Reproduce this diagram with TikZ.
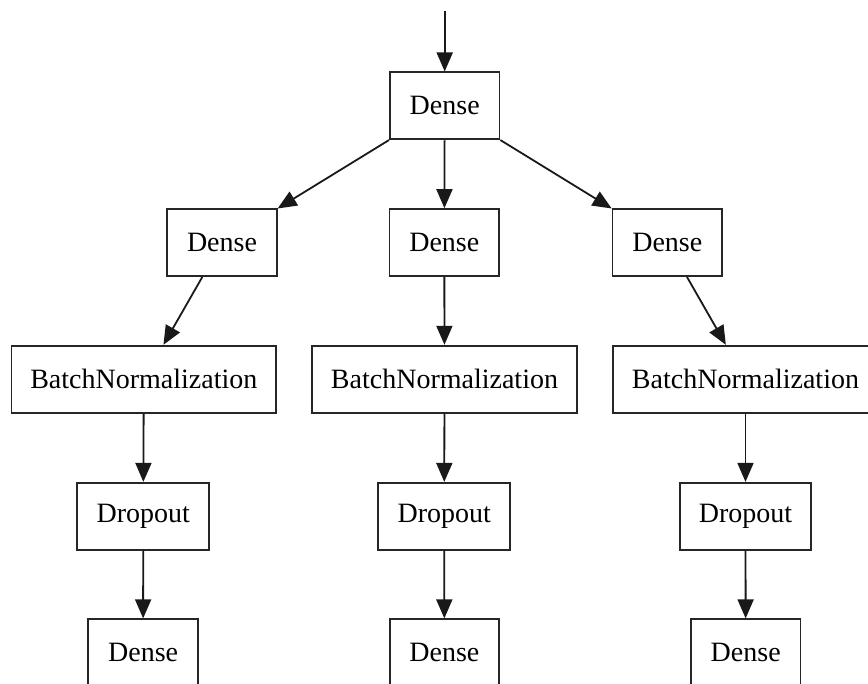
\documentclass[tikz,border=0pt]{standalone}
\usepackage{fontspec}
\setmainfont{Liberation Serif}
\usetikzlibrary{arrows.meta}
\begin{document}
\begin{tikzpicture}[x=1pt,y=-1pt,
  layer/.style={draw=black!85, line width=1.8pt, fill=white, inner sep=0pt,
    minimum height=67pt, font=\fontsize{28}{32}\selectfont},
  densebox/.style={layer, minimum width=109.5pt},
  bnbox/.style={layer, minimum width=264.5pt},
  dropbox/.style={layer, minimum width=131.7pt},
  edge/.style={draw=black!90, line width=1.8pt, -{Triangle[length=19pt,width=16pt]}}]
\useasboundingbox (0,0) rectangle (868,684);
\clip (0,0) rectangle (868,684);
\coordinate (in) at (444.7,11);
\node[densebox] (top) at (444.7,105.9) {Dense};
\node[densebox] (d2l) at (222,242.6) {Dense};
\node[densebox] (d2m) at (444.3,242.6) {Dense};
\node[densebox] (d2r) at (667.3,242.6) {Dense};
\node[bnbox] (bnl) at (143.8,379.2) {BatchNormalization};
\node[bnbox] (bnm) at (444.5,379.2) {BatchNormalization};
\node[bnbox] (bnr) at (745.5,379.2) {BatchNormalization};
\node[dropbox] (dol) at (143.2,516.3) {Dropout};
\node[dropbox] (dom) at (444.2,516.3) {Dropout};
\node[dropbox] (dor) at (745.5,516.3) {Dropout};
\node[densebox] (del) at (143.1,652.8) {Dense};
\node[densebox] (dem) at (444.4,652.8) {Dense};
\node[densebox] (der) at (745.7,652.8) {Dense};
\draw[edge] (in) -- (top);
\draw[edge] (top) -- (d2l);
\draw[edge] (top) -- (d2m);
\draw[edge] (top) -- (d2r);
\draw[edge] (d2l) -- (bnl);
\draw[edge] (d2m) -- (bnm);
\draw[edge] (d2r) -- (bnr);
\draw[edge] (bnl) -- (dol);
\draw[edge] (bnm) -- (dom);
\draw[edge] (bnr) -- (dor);
\draw[edge] (dol) -- (del);
\draw[edge] (dom) -- (dem);
\draw[edge] (dor) -- (der);
\end{tikzpicture}
\end{document}
